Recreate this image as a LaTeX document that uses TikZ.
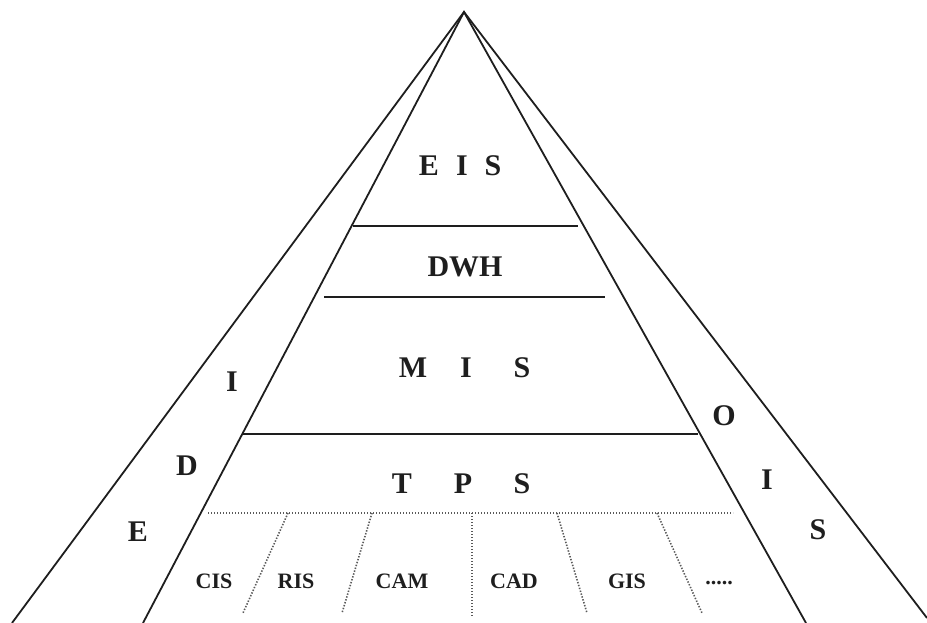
\documentclass[tikz,border=0pt]{standalone}
\usepackage{fontspec}
\setmainfont{Liberation Serif}
\usepackage{xcolor}
\definecolor{PyrLine}{RGB}{30,30,30}
\definecolor{PyrDot}{RGB}{90,90,90}

\begin{document}
\begin{tikzpicture}[
x=1pt,y=-1pt,
edge/.style={draw=PyrLine,line width=1.8pt},
layer/.style={draw=PyrLine,line width=2pt},
split/.style={draw=PyrDot,line width=1.6pt,dash pattern=on 1.4pt off 1.6pt},
big/.style={inner sep=0pt,font=\fontsize{30}{32}\selectfont\bfseries,text=PyrLine},
small/.style={inner sep=0pt,font=\fontsize{22}{24}\selectfont\bfseries,text=PyrLine}
]
\useasboundingbox (0,0) rectangle (927,623);
% pyramid corners
\coordinate (apex) at (464,12);
\coordinate (outL) at (12,623);
\coordinate (outR) at (927,618);
\coordinate (inL) at (143,623);
\coordinate (inR) at (806,623);
\draw[edge] (outL)--(apex)--(outR);
\draw[edge] (inL)--(apex)--(inR);
% layer borders
\coordinate (l1a) at (353,226); \coordinate (l1b) at (578,226);
\coordinate (l2a) at (324,297); \coordinate (l2b) at (605,297);
\coordinate (l3a) at (243,434); \coordinate (l3b) at (698,434);
\draw[layer] (l1a)--(l1b);
\draw[layer] (l2a)--(l2b);
\draw[layer] (l3a)--(l3b);
% TPS sub-systems
\coordinate (dA) at (208,513); \coordinate (dB) at (733,513);
\draw[split] (dA)--(dB);
\coordinate (s1t) at (288,513); \coordinate (s1b) at (243,613);
\coordinate (s2t) at (372,513); \coordinate (s2b) at (342,613);
\coordinate (s3t) at (472,513); \coordinate (s3b) at (472,617);
\coordinate (s4t) at (557,513); \coordinate (s4b) at (587,613);
\coordinate (s5t) at (657,513); \coordinate (s5b) at (702,613);
\draw[split] (s1t)--(s1b); \draw[split] (s2t)--(s2b); \draw[split] (s3t)--(s3b);
\draw[split] (s4t)--(s4b); \draw[split] (s5t)--(s5b);
% layer labels
\node[big] (eisE) at (429,166) {E};
\node[big] (eisI) at (462,166) {I};
\node[big] (eisS) at (493,166) {S};
\node[big] (dwh) at (465,267) {DWH};
\node[big] (misM) at (413,368) {M};
\node[big] (misI) at (466,368) {I};
\node[big] (misS) at (522,368) {S};
\node[big] (tpsT) at (402,484) {T};
\node[big] (tpsP) at (463,484) {P};
\node[big] (tpsS) at (522,484) {S};
% side labels
\node[big] (ediI) at (232,382) {I};
\node[big] (ediD) at (187,466) {D};
\node[big] (ediE) at (138,532) {E};
\node[big] (oisO) at (724,416) {O};
\node[big] (oisI) at (767,480) {I};
\node[big] (oisS) at (818,530) {S};
% sub-system labels
\node[small] (cis) at (214,581) {CIS};
\node[small] (ris) at (296,581) {RIS};
\node[small] (cam) at (402,581) {CAM};
\node[small] (cad) at (514,581) {CAD};
\node[small] (gis) at (627,581) {GIS};
\node[small] (more) at (719,583) {.....};
\end{tikzpicture}
\end{document}
